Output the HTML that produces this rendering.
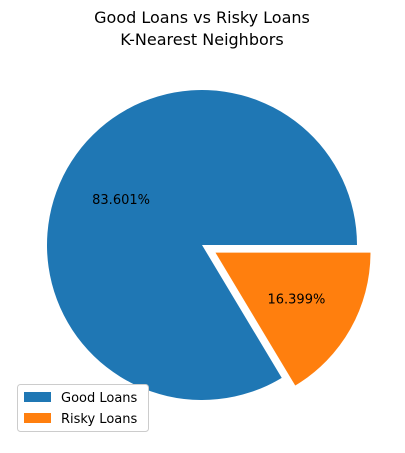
<!DOCTYPE html>
<html><head><meta charset="utf-8"><style>
body{margin:0;background:#fff;width:405px;height:448px;overflow:hidden}
svg text{font-family:"DejaVu Sans","Liberation Sans",sans-serif}
</style></head><body>
<svg id="chart" width="405" height="448" xmlns="http://www.w3.org/2000/svg">
<text x="202" y="23" text-anchor="middle" font-size="16">Good Loans vs Risky Loans</text>
<text x="202" y="45" text-anchor="middle" font-size="16">K-Nearest Neighbors</text>
<g id="slices"></g>
<g>
<rect x="17.5" y="384.5" width="131" height="47" rx="3" fill="#fff" stroke="#ccc"/>
<rect x="24" y="392" width="27" height="10" fill="#1f77b4"/>
<text x="61" y="402" font-size="13">Good Loans</text>
<rect x="24" y="413" width="27" height="10" fill="#ff7f0e"/>
<text x="61" y="423" font-size="13">Risky Loans</text>
</g>
</svg>
<script>
const categories=["Good Loans","Risky Loans"];
const values=[83.601,16.399];
const explode=[0,0.1];
const colors=["#1f77b4","#ff7f0e"];
const cx=202,cy=245,R=155;
const g=document.getElementById('slices');
const ns="http://www.w3.org/2000/svg";
const total=values.reduce((a,b)=>a+b,0);
let a0=0;
values.forEach((v,i)=>{
  const a1=a0+v/total*2*Math.PI;
  const mid=(a0+a1)/2;
  const ox=cx+explode[i]*R*Math.cos(mid), oy=cy-explode[i]*R*Math.sin(mid);
  const x0=ox+R*Math.cos(a0), y0=oy-R*Math.sin(a0);
  const x1=ox+R*Math.cos(a1), y1=oy-R*Math.sin(a1);
  const large=(a1-a0)>Math.PI?1:0;
  const p=document.createElementNS(ns,'path');
  p.setAttribute('d',`M${ox},${oy}L${x0},${y0}A${R},${R} 0 ${large} 0 ${x1},${y1}Z`);
  p.setAttribute('fill',colors[i]);
  
  
  g.appendChild(p);
  const t=document.createElementNS(ns,'text');
  t.setAttribute('x',ox+0.6*R*Math.cos(mid));
  t.setAttribute('y',oy-0.6*R*Math.sin(mid)+5);
  t.setAttribute('text-anchor','middle');
  t.setAttribute('font-size','13');
  t.textContent=(v/total*100).toFixed(3)+'%';
  
  
  g.appendChild(t);
  a0=a1;
});
</script>
</body></html>
